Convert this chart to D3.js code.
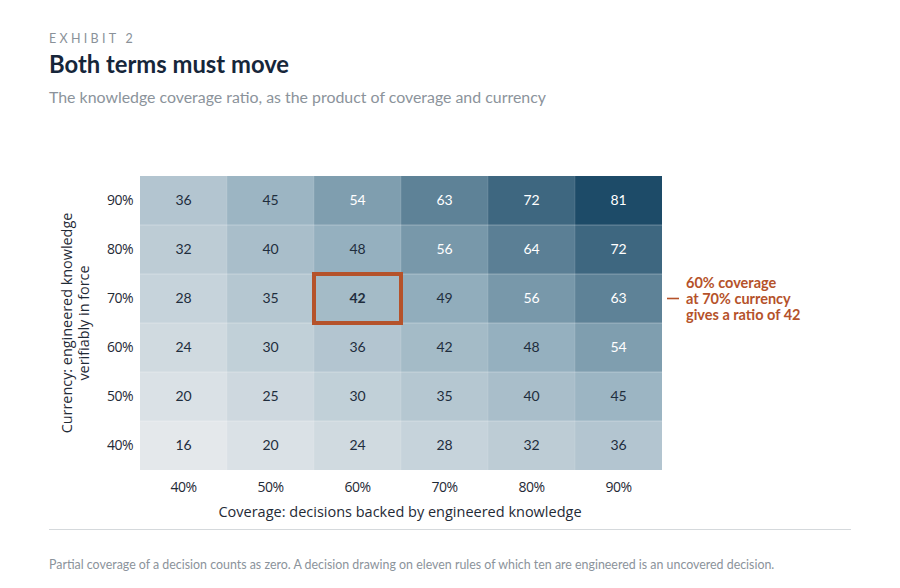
<!DOCTYPE html>
<html>
<head>
<meta charset="utf-8">
<script src="https://cdn.jsdelivr.net/npm/d3@7"></script>
<style>
  body { margin: 0; background: #fff; }
  svg { display: block; }
</style>
</head>
<body>
<svg id="chart"></svg>
<script>
const coverage = [40, 50, 60, 70, 80, 90];
const currency = [90, 80, 70, 60, 50, 40];
// ratio values, one row per currency level (top row = 90%)
const ratios = [
  [36, 45, 54, 63, 72, 81],
  [32, 40, 48, 56, 64, 72],
  [28, 35, 42, 49, 56, 63],
  [24, 30, 36, 42, 48, 54],
  [20, 25, 30, 35, 40, 45],
  [16, 20, 24, 28, 32, 36]
];
const highlight = { coverage: 60, currency: 70 };
const noteLines = ['60% coverage', 'at 70% currency', 'gives a ratio of 42'];

const width = 900, height = 588;
const svg = d3.select('#chart').attr('width', width).attr('height', height);

const grid = { left: 140, right: 662, top: 176, bottom: 470 };

const x = d3.scaleBand().domain(coverage).range([grid.left, grid.right]);
const y = d3.scaleBand().domain(currency).range([grid.top, grid.bottom]);
const color = d3.scaleLinear()
    .domain([16, 48, 81])
    .range(['#e4e8eb', '#95b0bf', '#1d4b68']);

// header
svg.append('text')
    .attr('x', 49).attr('y', 43)
    .style('font', '12.5px Lato').style('letter-spacing', '3.3px')
    .attr('fill', '#8a9199')
    .text('EXHIBIT 2');
svg.append('text')
    .attr('x', 49).attr('y', 73)
    .style('font', 'bold 23.8px Lato')
    .attr('fill', '#16263a')
    .text('Both terms must move');
svg.append('text')
    .attr('x', 49).attr('y', 103)
    .style('font', '15.9px Lato')
    .attr('fill', '#8b939b')
    .text('The knowledge coverage ratio, as the product of coverage and currency');

const cells = [];
ratios.forEach((row, i) => {
    row.forEach((v, j) => cells.push({ cov: coverage[j], cur: currency[i], v: v }));
});

svg.append('g').selectAll('rect')
    .data(cells)
    .join('rect')
    .attr('x', d => x(d.cov))
    .attr('y', d => y(d.cur))
    .attr('width', x.bandwidth())
    .attr('height', y.bandwidth())
    .attr('fill', d => color(d.v));

// faint cell separators
svg.append('g').selectAll('line')
    .data(currency.slice(1))
    .join('line')
    .attr('x1', grid.left).attr('x2', grid.right)
    .attr('y1', d => y(d)).attr('y2', d => y(d))
    .attr('stroke', '#fff').attr('stroke-opacity', 0.3).attr('stroke-width', 1);
svg.append('g').selectAll('line')
    .data(coverage.slice(1))
    .join('line')
    .attr('y1', grid.top).attr('y2', grid.bottom)
    .attr('x1', d => x(d)).attr('x2', d => x(d))
    .attr('stroke', '#fff').attr('stroke-opacity', 0.12).attr('stroke-width', 1);

svg.append('g').selectAll('text')
    .data(cells)
    .join('text')
    .attr('x', d => x(d.cov) + x.bandwidth() / 2)
    .attr('y', d => y(d.cur) + y.bandwidth() / 2)
    .attr('dy', '0.35em')
    .attr('text-anchor', 'middle')
    .style('font-family', 'Lato')
    .style('font-size', '14px')
    .style('font-weight', d => (d.cov === highlight.coverage && d.cur === highlight.currency) ? 'bold' : 'normal')
    .attr('fill', d => d.v > 50 ? '#ffffff' : '#1f2d3d')
    .text(d => d.v);

// highlighted cell
svg.append('rect')
    .attr('x', x(highlight.coverage))
    .attr('y', y(highlight.currency))
    .attr('width', x.bandwidth())
    .attr('height', y.bandwidth())
    .attr('fill', 'none')
    .attr('stroke', '#b5522a')
    .attr('stroke-width', 4);

// annotation
const noteY = y(highlight.currency) + y.bandwidth() / 2;
svg.append('line')
    .attr('x1', grid.right + 5).attr('x2', grid.right + 17)
    .attr('y1', noteY).attr('y2', noteY)
    .attr('stroke', '#b5522a').attr('stroke-width', 1.6);
svg.append('g').selectAll('text')
    .data(noteLines)
    .join('text')
    .attr('x', grid.right + 24)
    .attr('y', (d, i) => noteY + (i - 1) * 16)
    .attr('dy', '0.35em')
    .style('font', 'bold 14.5px Lato')
    .attr('fill', '#b5522a')
    .text(d => d);

// axes
const xAxis = svg.append('g')
    .attr('transform', `translate(0,${grid.bottom})`)
    .call(d3.axisBottom(x).tickSize(0).tickPadding(12).tickFormat(d => d + '%'));
const yAxis = svg.append('g')
    .attr('transform', `translate(${grid.left},0)`)
    .call(d3.axisLeft(y).tickSize(0).tickPadding(7).tickFormat(d => d + '%'));
[xAxis, yAxis].forEach(a => {
    a.select('.domain').remove();
    a.selectAll('text')
        .style('font-family', 'Open Sans')
        .style('font-size', '14px')
        .style('letter-spacing', '-0.5px')
        .attr('fill', '#1f2a36');
});

svg.append('text')
    .attr('x', (grid.left + grid.right) / 2 - 1).attr('y', 517)
    .attr('text-anchor', 'middle')
    .style('font', '14.5px "Open Sans"')
    .attr('fill', '#1f2a36')
    .text('Coverage: decisions backed by engineered knowledge');

const yTitle = svg.append('text')
    .attr('transform', `translate(72,${(grid.top + grid.bottom) / 2}) rotate(-90)`)
    .attr('text-anchor', 'middle')
    .style('font', '14.4px "Open Sans"')
    .attr('fill', '#1f2a36');
yTitle.append('tspan').attr('x', 0).attr('dy', 0).text('Currency: engineered knowledge');
yTitle.append('tspan').attr('x', 0).attr('dy', 17).text('verifiably in force');

// footer
svg.append('line')
    .attr('x1', 49).attr('x2', 851)
    .attr('y1', 529.5).attr('y2', 529.5)
    .attr('stroke', '#d5d9dc');
svg.append('text')
    .attr('x', 49).attr('y', 569)
    .style('font', '12.4px Lato')
    .attr('fill', '#8b939b')
    .text('Partial coverage of a decision counts as zero. A decision drawing on eleven rules of which ten are engineered is an uncovered decision.');
</script>
</body>
</html>
